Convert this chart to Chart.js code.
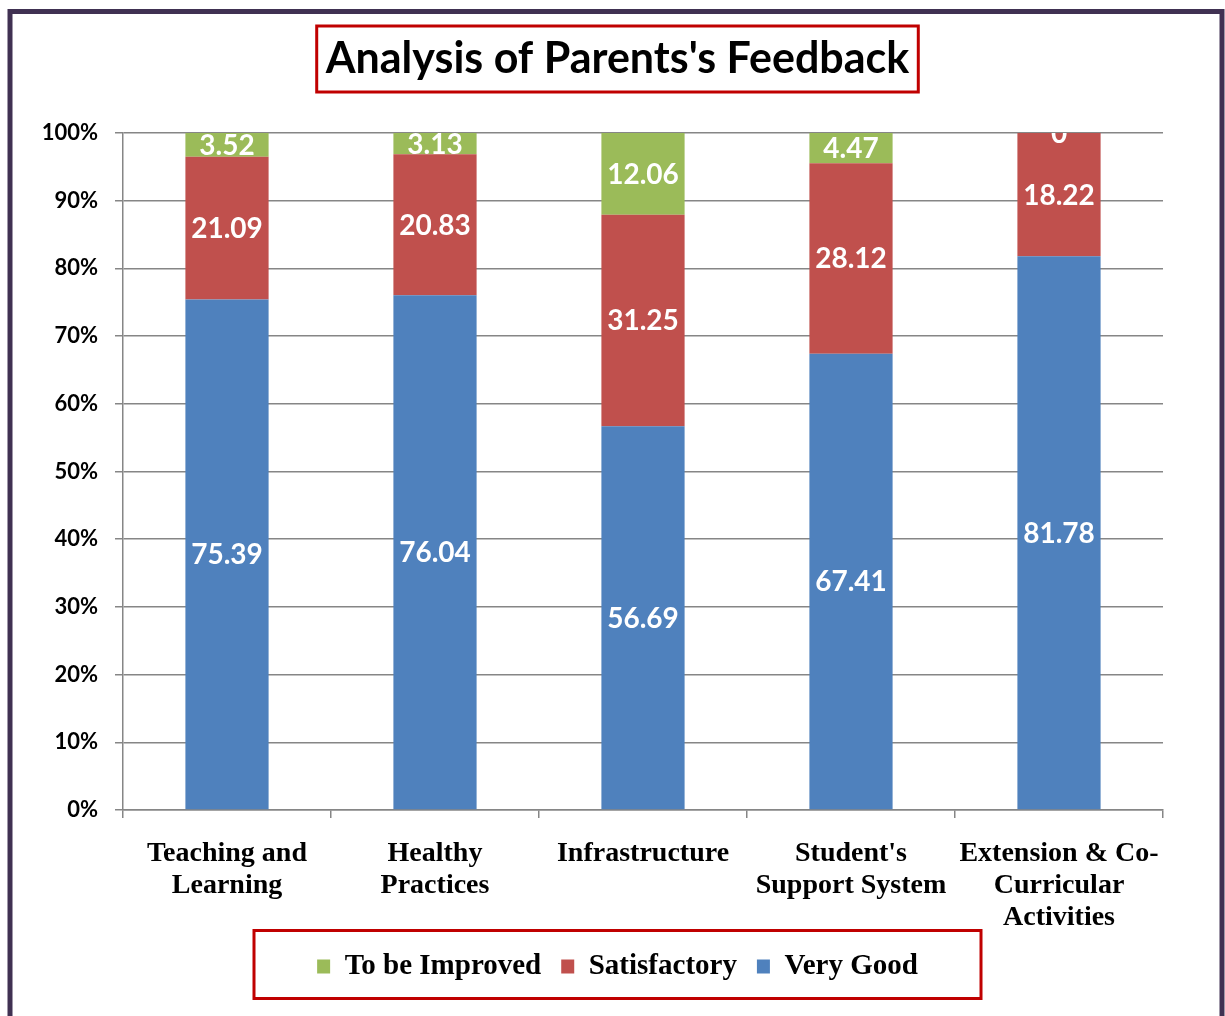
<!DOCTYPE html>
<html lang="en">
<head>
  <meta charset="UTF-8">
  <title>Analysis of Parents's Feedback</title>
  <script src="https://cdn.jsdelivr.net/npm/chart.js@4.4.1/dist/chart.umd.min.js"></script>
  <style>
    html, body { margin: 0; padding: 0; background: #fff; }
    #wrap { width: 1225px; height: 1016px; }
  </style>
</head>
<body>
  <div id="wrap"><canvas id="myChart"></canvas></div>

  <script>
    // data
    var categories = [
      ['Teaching and', 'Learning'],
      ['Healthy', 'Practices'],
      ['Infrastructure'],
      ["Student's", 'Support System'],
      ['Extension & Co-', 'Curricular', 'Activities']
    ];
    var veryGood = [75.39, 76.04, 56.69, 67.41, 81.78];
    var satisfactory = [21.09, 20.83, 31.25, 28.12, 18.22];
    var toBeImproved = [3.52, 3.13, 12.06, 4.47, 0];
    var yTicks = [0, 10, 20, 30, 40, 50, 60, 70, 80, 90, 100];

    var RED_BOX = '#c00000';
    var TITLE_FONT = 'bold 43px Lato';

    // purple frame + white page
    var framePlugin = {
      id: 'frame',
      beforeDraw: function (chart) {
        var c = chart.ctx;
        c.save();
        c.fillStyle = '#fff';
        c.fillRect(0, 0, chart.width, chart.height);
        c.strokeStyle = '#403152';
        c.lineWidth = 5;
        c.strokeRect(10, 11.5, 1212, 1100);
        c.restore();
      }
    };

    // values in the middle of each segment
    var valueLabels = {
      id: 'valueLabels',
      afterDatasetsDraw: function (chart) {
        var c = chart.ctx;
        var a = chart.chartArea;
        c.save();
        c.beginPath();
        c.rect(a.left, a.top, a.right - a.left, a.bottom - a.top);
        c.clip();
        c.fillStyle = '#fff';
        c.font = 'bold 28px Lato';
        c.textAlign = 'center';
        c.textBaseline = 'middle';
        chart.data.datasets.forEach(function (ds, i) {
          chart.getDatasetMeta(i).data.forEach(function (bar, j) {
            var mid = (bar.y + bar.base) / 2;
            c.fillText(String(ds.data[j]), bar.x, mid + 1);
          });
        });
        c.restore();
      }
    };

    // red boxes round the title and the legend
    var boxes = {
      id: 'boxes',
      afterDraw: function (chart) {
        var c = chart.ctx;
        c.save();
        c.strokeStyle = RED_BOX;
        c.lineWidth = 3;

        var tb = chart.titleBlock;
        var topt = chart.options.plugins.title;
        c.font = TITLE_FONT;
        var tw = c.measureText(topt.text).width;
        var cx = (tb.left + tb.right) / 2;
        var cy = 59;
        c.strokeRect(cx - tw / 2 - 9, cy - 33, tw + 18, 66);

        var lg = chart.legend;
        var hb = lg.legendHitBoxes;
        var ly = hb[0].top + hb[0].height / 2;
        var lx = (lg.left + lg.right) / 2;
        c.strokeRect(lx - 363.5, ly - 36, 727, 68);
        c.restore();
      }
    };

    var ctx = document.getElementById('myChart').getContext('2d');
    var myChart = new Chart(ctx, {
      type: 'bar',
      data: {
        labels: categories,
        datasets: [
          { label: 'Very Good', data: veryGood, backgroundColor: '#4f81bd' },
          { label: 'Satisfactory', data: satisfactory, backgroundColor: '#c0504d' },
          { label: 'To be Improved', data: toBeImproved, backgroundColor: '#9bbb59' }
        ]
      },
      options: {
        responsive: true,
        maintainAspectRatio: false,
        animation: false,
        barPercentage: 0.4,
        categoryPercentage: 1,
        layout: { padding: { left: 10, right: 0, top: 0, bottom: 25 } },
        scales: {
          x: {
            stacked: true,
            grid: { drawOnChartArea: false, drawTicks: true, tickLength: 8, color: '#868686', lineWidth: 1.5 },
            border: { color: '#868686', width: 1.5 },
            ticks: {
              color: '#000',
              padding: 20,
              maxRotation: 0,
              autoSkip: false,
              font: { family: 'Liberation Serif', weight: 'bold', size: 28, lineHeight: '32px' }
            },
            afterFit: function (s) { s.height = 122; }
          },
          y: {
            stacked: true,
            min: 0,
            max: 100,
            afterBuildTicks: function (s) {
              s.ticks = yTicks.map(function (v) { return { value: v }; });
            },
            grid: { color: '#868686', lineWidth: 1.5, tickLength: 8 },
            border: { color: '#868686', width: 1.5 },
            ticks: {
              color: '#000',
              padding: 17,
              font: { family: 'Lato', weight: 'bold', size: 22 },
              callback: function (v) { return v + '%'; }
            },
            afterFit: function (s) { s.width = 113; }
          },
          yRight: {
            position: 'right',
            display: true,
            grid: { display: false },
            border: { display: false },
            ticks: { display: false },
            afterFit: function (s) { s.width = 62; }
          }
        },
        plugins: {
          title: {
            display: true,
            text: "Analysis of Parents's Feedback",
            color: '#000',
            font: { family: 'Lato', weight: 'bold', size: 43, lineHeight: 1.2 },
            padding: { top: 33, bottom: 48.4 }
          },
          legend: {
            position: 'bottom',
            reverse: true,
            labels: {
              color: '#000',
              boxWidth: 13,
              boxHeight: 14,
              padding: 20,
              font: { family: 'Liberation Serif', weight: 'bold', size: 29 }
            }
          },
          tooltip: { enabled: false }
        }
      },
      plugins: [framePlugin, valueLabels, boxes]
    });
  </script>
</body>
</html>
